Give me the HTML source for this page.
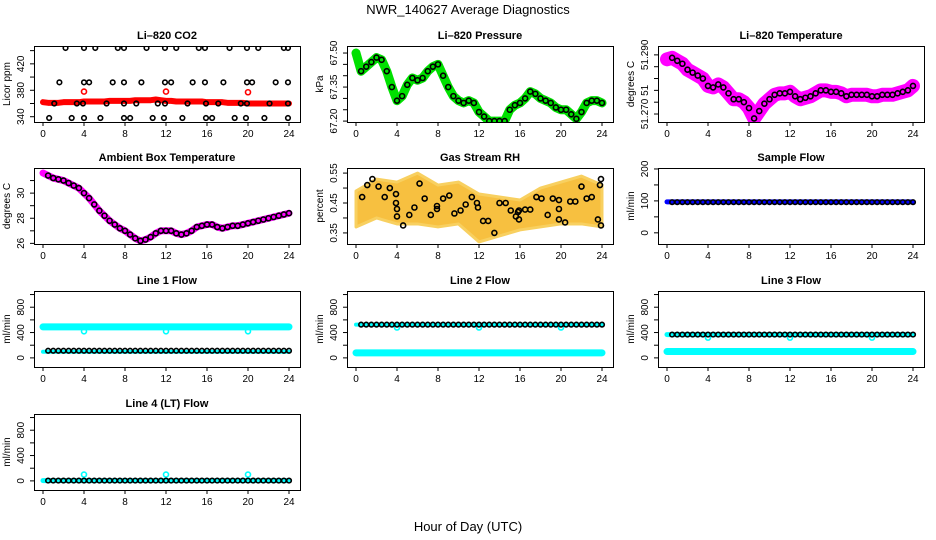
<!DOCTYPE html>
<html><head><meta charset="utf-8"><style>
html,body{margin:0;padding:0;background:#fff;}
svg{display:block;font-family:"Liberation Sans",sans-serif;}
</style></head><body>
<svg id="c" width="936" height="540" xmlns="http://www.w3.org/2000/svg">
<text x="468" y="14" text-anchor="middle" font-size="13">NWR_140627  Average Diagnostics</text>
<text x="468" y="531" text-anchor="middle" font-size="13">Hour of Day (UTC)</text>
</svg>
<script>
// ---- data ----
const hours = [0,0.5,1,1.5,2,2.5,3,3.5,4,4.5,5,5.5,6,6.5,7,7.5,8,8.5,9,9.5,10,10.5,11,11.5,12,12.5,13,13.5,14,14.5,15,15.5,16,16.5,17,17.5,18,18.5,19,19.5,20,20.5,21,21.5,22,22.5,23,23.5,24];
const xTicks = [0,4,8,12,16,20,24];
const co2Red = [362,361,361,361,362,362,362,362,363,363,363,363,363,364,364,364,364,364,365,365,365,365,366,365,364,364,363,363,363,363,363,363,362,362,362,362,361,361,361,361,360,360,360,360,360,360,360,360,360];
const co2SpikeT = [4,12,20];
const co2SpikeV = [378,378,377];
const co2TopT = [2.2,4,5.1,7.3,7.9,10.1,11.9,13,15.2,15.8,18.2,19.9,21,23.5,23.9];
const co2UpT = [1.6,4,4.5,6.8,7.9,9.6,11.9,12.5,14.6,15.8,17.6,19.9,20.4,22.7,23.9];
const co2MidT = [1.1,3.3,3.9,6.2,7.9,9.1,11.2,11.9,14.1,15.9,17.1,19.3,19.9,22.1,23.9];
const co2LowT = [0.6,2.8,4,5.6,7.9,8.5,10.7,11.8,13.6,15.9,16.5,18.7,19.8,21.6,23.9];
const co2Levels = [444,392,360,338];
const pressure = [67.50,67.42,67.44,67.46,67.48,67.47,67.42,67.35,67.29,67.31,67.36,67.39,67.38,67.39,67.42,67.44,67.45,67.40,67.35,67.31,67.29,67.28,67.29,67.28,67.24,67.22,67.20,67.20,67.20,67.20,67.25,67.27,67.28,67.30,67.33,67.32,67.30,67.29,67.28,67.26,67.25,67.25,67.23,67.21,67.24,67.28,67.29,67.29,67.28];
const liTemp = [51.2885,51.289,51.288,51.287,51.285,51.284,51.283,51.282,51.2795,51.279,51.280,51.279,51.277,51.275,51.275,51.274,51.272,51.2685,51.271,51.2735,51.275,51.2765,51.277,51.277,51.2775,51.276,51.275,51.2755,51.276,51.277,51.278,51.278,51.2775,51.2775,51.277,51.276,51.2765,51.2765,51.2765,51.2765,51.276,51.276,51.2765,51.2765,51.2765,51.277,51.2775,51.278,51.2795];
const ambient = [31.6,31.4,31.2,31.1,31.0,30.8,30.6,30.4,30.0,29.6,29.1,28.6,28.2,27.8,27.5,27.2,27.0,26.7,26.4,26.2,26.3,26.5,26.8,27.0,27.0,27.0,26.8,26.7,26.8,27.0,27.3,27.4,27.5,27.5,27.3,27.2,27.3,27.4,27.4,27.5,27.6,27.7,27.8,27.9,28.0,28.1,28.2,28.3,28.4];
const rhBandT = [0,2,4,6,8,10,12,14,16,18,20,22,24];
const rhLow = [0.37,0.40,0.38,0.38,0.37,0.38,0.32,0.34,0.36,0.37,0.38,0.38,0.37];
const rhHigh = [0.49,0.53,0.52,0.55,0.51,0.52,0.48,0.47,0.46,0.50,0.52,0.54,0.51];
const rhT = [0.6,1.1,1.6,2.2,2.8,3.3,3.9,3.9,4,4,4.6,5.2,5.7,6.2,6.7,7.3,7.9,7.9,8.5,9.1,9.6,10.2,10.7,11.3,11.8,11.9,12.4,12.9,13.5,14,14.6,15.1,15.6,15.8,15.9,15.9,16.5,17,17.6,18.1,18.7,19.2,19.8,19.8,19.8,20.4,20.9,21.4,22,22.5,23,23.6,23.8,23.9,23.9];
const rhV = [0.47,0.51,0.53,0.505,0.47,0.50,0.48,0.45,0.43,0.405,0.375,0.41,0.435,0.515,0.465,0.41,0.44,0.43,0.465,0.475,0.415,0.425,0.445,0.47,0.45,0.435,0.39,0.39,0.35,0.45,0.45,0.425,0.405,0.42,0.425,0.395,0.428,0.428,0.47,0.465,0.41,0.465,0.46,0.43,0.395,0.385,0.455,0.455,0.505,0.465,0.47,0.395,0.51,0.53,0.375];
const sampleFlow = 97;
const line1Cyan = 490, line1Black = 112, line1Dip = 420;
const line2Cyan = 80, line2Black = 525, line2Dip = 480;
const line3Cyan = 100, line3Black = 368, line3Dip = 320;
const line4Cyan = 5, line4Black = 5, line4Spike = 100;
const spikeT = [4,12,20];

// ---- layout ----
const svg = document.getElementById('c');
const NS = 'http://www.w3.org/2000/svg';
const colLeft = [34,347,658], rowTop = [46,168,291,414], BW = 266, BH = 76;
function mk(tag, attrs, parent){const e=document.createElementNS(NS,tag);for(const k in attrs)e.setAttribute(k,attrs[k]);(parent||svg).appendChild(e);return e;}

function panel(col,row,name,title,ylab,ylim,yticks,ylabels){
  const L=colLeft[col],T=rowTop[row];
  const g=mk('g',{});
  
  
  const sx=t=>L+9+t*246/24;
  const sy=v=>T+BH-(v-ylim[0])/(ylim[1]-ylim[0])*BH;
  const tt=mk('text',{x:L+BW/2,y:T-7,'text-anchor':'middle','font-size':'11','font-weight':'bold'},g);
  tt.textContent=title;
  
  
  const yl=mk('text',{x:0,y:0,'text-anchor':'middle','font-size':'10',transform:`translate(${L-24},${T+BH/2}) rotate(-90)`},g);
  yl.textContent=ylab;
  
  
  const ax=mk('g',{stroke:'#000','stroke-width':1},g);
  
  
  xTicks.forEach(t=>{
    mk('line',{x1:sx(t),x2:sx(t),y1:T+BH,y2:T+BH+4},ax);
    const tx=mk('text',{x:sx(t),y:T+BH+15,'text-anchor':'middle','font-size':'10',stroke:'none'},g);
    tx.textContent=t;
    
    
  });
  yticks.forEach((v,i)=>{
    mk('line',{x1:L-4,x2:L,y1:sy(v),y2:sy(v)},ax);
    if(ylabels[i]){
      const tx=mk('text',{x:0,y:0,'text-anchor':'middle','font-size':'10',transform:`translate(${L-10},${sy(v)}) rotate(-90)`},g);
      tx.textContent=ylabels[i];
      
      
    }
  });
  const body=mk('g',{},g);
  
  
  const clip=mk('clipPath',{id:'cl'+name},g);mk('rect',{x:L,y:T,width:BW,height:BH},clip);
  body.setAttribute('clip-path','url(#cl'+name+')');
  mk('rect',{x:L+0.5,y:T+0.5,width:BW,height:BH,fill:'none',stroke:'#000'},g);
  return {g:body,sx,sy};
}
function circ(p,t,v,color,r,name){
  const c=mk('circle',{cx:p.sx(t),cy:p.sy(v),r:r||2.5,fill:'none',stroke:color,'stroke-width':1.6},p.g);
  
  
}
function band(p,vals,color,w,name){
  const l=mk('polyline',{points:hours.map((t,i)=>p.sx(t)+','+p.sy(vals[i])).join(' '),fill:'none',stroke:color,'stroke-width':w,'stroke-linejoin':'round','stroke-linecap':'round'},p.g);
  
  
}
function flat(p,v,color,w,name){
  const l=mk('line',{x1:p.sx(0),x2:p.sx(24),y1:p.sy(v),y2:p.sy(v),stroke:color,'stroke-width':w,'stroke-linecap':'round'},p.g);
  
  
}
function blackRow(p,v,name){hours.forEach(t=>{if(t>0.3)circ(p,t,v,'#000',2.3,name);});}

// CO2
let p=panel(0,0,'co2','Li\u2013820 CO2','Licor ppm',[332,447],[340,360,380,400,420,440],['340','','380','','420','']);
band(p,co2Red,'#ff0000',6,'co2-series');
co2SpikeT.forEach((t,i)=>circ(p,t,co2SpikeV[i],'#ff0000',2.5,'co2-spike'));
[co2TopT,co2UpT,co2MidT,co2LowT].forEach((arr,k)=>arr.forEach(t=>circ(p,t,co2Levels[k],'#000',2.3,'co2-avg-point')));

// Pressure
p=panel(1,0,'pressure','Li\u2013820 Pressure','kPa',[67.196,67.531],[67.20,67.25,67.30,67.35,67.40,67.45,67.50],['67.20','','','67.35','','','67.50']);
band(p,pressure,'#00e000',9,'pressure-series');
hours.forEach((t,i)=>{if(t>0.3)circ(p,t,pressure[i],'#000',2.5,'pressure-avg-point');});

// Li temp
p=panel(2,0,'li-temp','Li\u2013820 Temperature','degrees C',[51.2673,51.2930],[51.270,51.274,51.278,51.282,51.286,51.290],['51.270','','51','','','51.290']);
band(p,liTemp,'#ff00ff',14,'li-temp-series');
hours.forEach((t,i)=>{if(t>0.3)circ(p,t,liTemp[i],'#000',2.5,'li-temp-avg-point');});

// Ambient
p=panel(0,1,'ambient','Ambient Box Temperature','degrees C',[25.95,32],[26,27,28,29,30,31],['26','','28','','30','']);
band(p,ambient,'#ff00ff',7,'ambient-series');
hours.forEach((t,i)=>{if(t>0.3)circ(p,t,ambient[i],'#000',2.5,'ambient-avg-point');});

// RH
p=panel(1,1,'rh','Gas Stream RH','percent',[0.313,0.567],[0.35,0.40,0.45,0.50,0.55],['0.35','','0.45','','0.55']);
{const pts=rhBandT.map((t,i)=>p.sx(t)+','+p.sy(rhHigh[i])).concat(rhBandT.slice().reverse().map((t,j)=>p.sx(t)+','+p.sy(rhLow[rhBandT.length-1-j])));
 const b=mk('polygon',{points:pts.join(' '),fill:'#f7c040',stroke:'#f8d060','stroke-width':3,'stroke-linejoin':'round'},p.g);
 
 }
rhT.forEach((t,i)=>circ(p,t,rhV[i],'#000',2.5,'rh-avg-point'));

// Sample flow
p=panel(2,1,'sample-flow','Sample Flow','ml/min',[-35,203],[0,50,100,150,200],['0','','100','','200']);
flat(p,sampleFlow,'#0000ff',5,'sample-flow-series');blackRow(p,sampleFlow-1,'sample-flow-avg-point');

// Line flows
const fT=[0,200,400,600,800,1000], fL=['0','','400','','800',''], fY=[-144,1056];
p=panel(0,2,'line1','Line 1 Flow','ml/min',fY,fT,fL);
flat(p,line1Cyan,'#00ffff',7,'line1-cyan-series');flat(p,line1Black-15,'#00ffff',4,'line1-cyan-low');
spikeT.forEach(t=>circ(p,t,line1Dip,'#00ffff',2.5,'line1-dip'));blackRow(p,line1Black,'line1-avg-point');
p=panel(1,2,'line2','Line 2 Flow','ml/min',fY,fT,fL);
flat(p,line2Cyan,'#00ffff',7,'line2-cyan-series');flat(p,line2Black,'#00ffff',4,'line2-cyan-high');
spikeT.forEach(t=>circ(p,t,line2Dip,'#00ffff',2.5,'line2-dip'));blackRow(p,line2Black,'line2-avg-point');
p=panel(2,2,'line3','Line 3 Flow','ml/min',fY,fT,fL);
flat(p,line3Cyan,'#00ffff',7,'line3-cyan-series');flat(p,line3Black,'#00ffff',5,'line3-cyan-high');
spikeT.forEach(t=>circ(p,t,line3Dip,'#00ffff',2.5,'line3-dip'));blackRow(p,line3Black,'line3-avg-point');
p=panel(0,3,'line4','Line 4 (LT) Flow','ml/min',fY,fT,fL);
flat(p,line4Cyan,'#00ffff',5,'line4-cyan-series');
spikeT.forEach(t=>circ(p,t,line4Spike,'#00ffff',2.5,'line4-spike'));blackRow(p,line4Black,'line4-avg-point');
</script>
</body></html>
